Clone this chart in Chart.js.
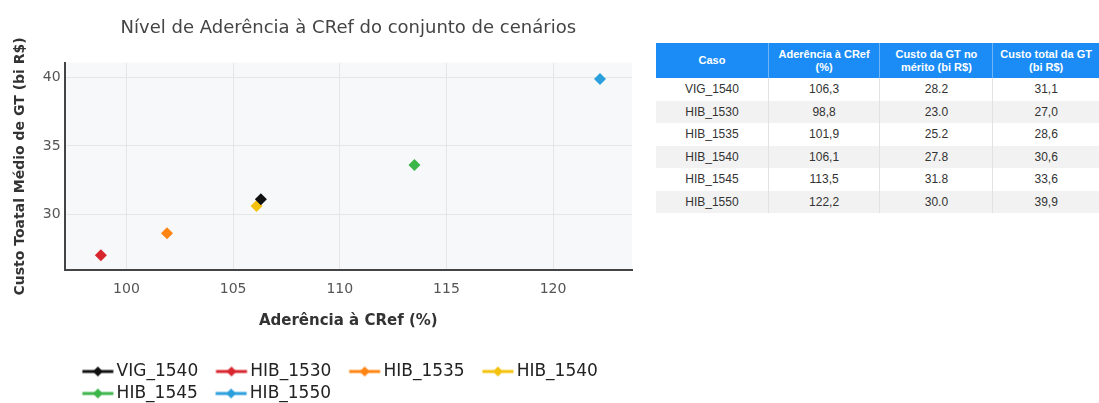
<!DOCTYPE html>
<html>
<head>
<meta charset="utf-8">
<script src="https://cdn.jsdelivr.net/npm/chart.js@4/dist/chart.umd.min.js"></script>
<style>
  body { margin: 0; background: #fff; width: 1099px; height: 403px; overflow: hidden; position: relative; }
  #chart-box { position: absolute; left: 0; top: 0; width: 648px; height: 412px; }
  #tbl { position: absolute; left: 656px; top: 43px; border-collapse: collapse; table-layout: fixed;
         font-family: "Liberation Sans", Arial, sans-serif; background: #fff; }
  #tbl th { background: #1b8cf5; color: #fff; font-size: 11px; font-weight: bold; height: 35px; padding: 0 4px;
            border-left: 1px solid #6fb4f5; line-height: 13px; }
  #tbl th:first-child { border-left: none; }
  #tbl td { font-size: 12px; color: #333; height: 22.5px; padding: 0; text-align: center; border-left: 1px solid #e2e2e2; }
  #tbl td:first-child { border-left: none; }
  #tbl tr:nth-child(even) td { background: #f2f2f2; }
</style>
</head>
<body>
<div id="chart-box"><canvas id="chart"></canvas></div>
<table id="tbl">
  <colgroup><col style="width:114px"><col style="width:113px"><col style="width:115px"><col style="width:108px"></colgroup>
  <thead><tr><th>Caso</th><th>Aderência à CRef (%)</th><th>Custo da GT no mérito (bi R$)</th><th>Custo total da GT (bi R$)</th></tr></thead>
  <tbody id="tbody"></tbody>
</table>
<script>
const cases = ["VIG_1540", "HIB_1530", "HIB_1535", "HIB_1540", "HIB_1545", "HIB_1550"];
const aderencia = [106.3, 98.8, 101.9, 106.1, 113.5, 122.2];
const custoGT = [28.2, 23.0, 25.2, 27.8, 31.8, 30.0];
const custoTotal = [31.1, 27.0, 28.6, 30.6, 33.6, 39.9];
const colors = ["#111111", "#d8262f", "#ff8412", "#f4c20d", "#3cb54a", "#2b9fdc"];
const xTicks = [100, 105, 110, 115, 120];
const yTicks = [30, 35, 40];

// table on the right
const tbody = document.getElementById("tbody");
cases.forEach(function (c, i) {
  const tr = document.createElement("tr");
  [c, aderencia[i].toFixed(1).replace(".", ","), custoGT[i].toFixed(1), custoTotal[i].toFixed(1).replace(".", ",")]
    .forEach(function (t) {
      const td = document.createElement("td");
      td.textContent = t;
      tr.appendChild(td);
    });
  tbody.appendChild(tr);
});

// legend marker: short line with a diamond
function legendIcon(color) {
  const c = document.createElement("canvas");
  c.width = 52; c.height = 14;
  const g = c.getContext("2d");
  g.strokeStyle = color;
  g.lineWidth = 3;
  g.beginPath(); g.moveTo(19.5, 7); g.lineTo(50.5, 7); g.stroke();
  g.fillStyle = color;
  g.beginPath(); g.moveTo(35, 2); g.lineTo(40, 7); g.lineTo(35, 12); g.lineTo(30, 7); g.closePath(); g.fill();
  return c;
}

const plotBg = {
  id: "plotBg",
  beforeDraw(chart) {
    const { ctx, chartArea: a } = chart;
    ctx.save();
    ctx.fillStyle = "#f7f8fa";
    ctx.fillRect(a.left, a.top, a.width, a.height);
    ctx.restore();
  }
};

const font = "'DejaVu Sans', Verdana, sans-serif";

new Chart(document.getElementById("chart"), {
  type: "scatter",
  data: {
    datasets: cases.map(function (c, i) {
      return {
        label: c,
        data: [{ x: aderencia[i], y: custoTotal[i] }],
        pointStyle: "rectRot",
        pointRadius: 6,
        backgroundColor: colors[i],
        borderColor: colors[i],
        borderWidth: 0
      };
    })
  },
  options: {
    responsive: true,
    maintainAspectRatio: false,
    animation: false,
    layout: { padding: { right: 16 } },
    plugins: {
      title: {
        display: true,
        fullSize: false,
        text: "Nível de Aderência à CRef do conjunto de cenários",
        color: "#444",
        font: { family: font, size: 18, weight: "normal" },
        padding: { top: 18, bottom: 23 }
      },
      legend: {
        position: "bottom",
        align: "start",
        fullSize: false,
        labels: {
          usePointStyle: true,
          pointStyleWidth: 38.5,
          padding: 5,
          color: "#222",
          font: { family: font, size: 17 },
          generateLabels: function (chart) {
            return Chart.defaults.plugins.legend.labels.generateLabels(chart).map(function (item, i) {
              item.pointStyle = legendIcon(colors[i]);
              return item;
            });
          }
        }
      },
      tooltip: { enabled: false }
    },
    scales: {
      x: {
        type: "linear",
        min: 97.1,
        max: 123.7,
        afterBuildTicks: function (s) { s.ticks = xTicks.map(function (v) { return { value: v }; }); },
        border: { color: "#444", width: 2 },
        grid: { color: "#e6e6e6", drawTicks: false },
        ticks: { padding: 11, color: "#555", font: { family: font, size: 14 } },
        title: {
          display: true,
          text: "Aderência à CRef (%)",
          color: "#333",
          font: { family: font, size: 15, weight: "bold" },
          padding: { top: 3, bottom: 28 }
        }
      },
      y: {
        min: 25.9,
        max: 41.1,
        afterBuildTicks: function (s) { s.ticks = yTicks.map(function (v) { return { value: v }; }); },
        border: { color: "#444", width: 2 },
        grid: { color: "#e6e6e6", drawTicks: false },
        ticks: { padding: 4, color: "#555", font: { family: font, size: 14 } },
        title: {
          display: true,
          text: "Custo Toatal Médio de GT (bi R$)",
          color: "#333",
          font: { family: font, size: 14, weight: "bold" },
          padding: { top: 12, bottom: 10 }
        }
      }
    }
  },
  plugins: [plotBg]
});
</script>
</body>
</html>
